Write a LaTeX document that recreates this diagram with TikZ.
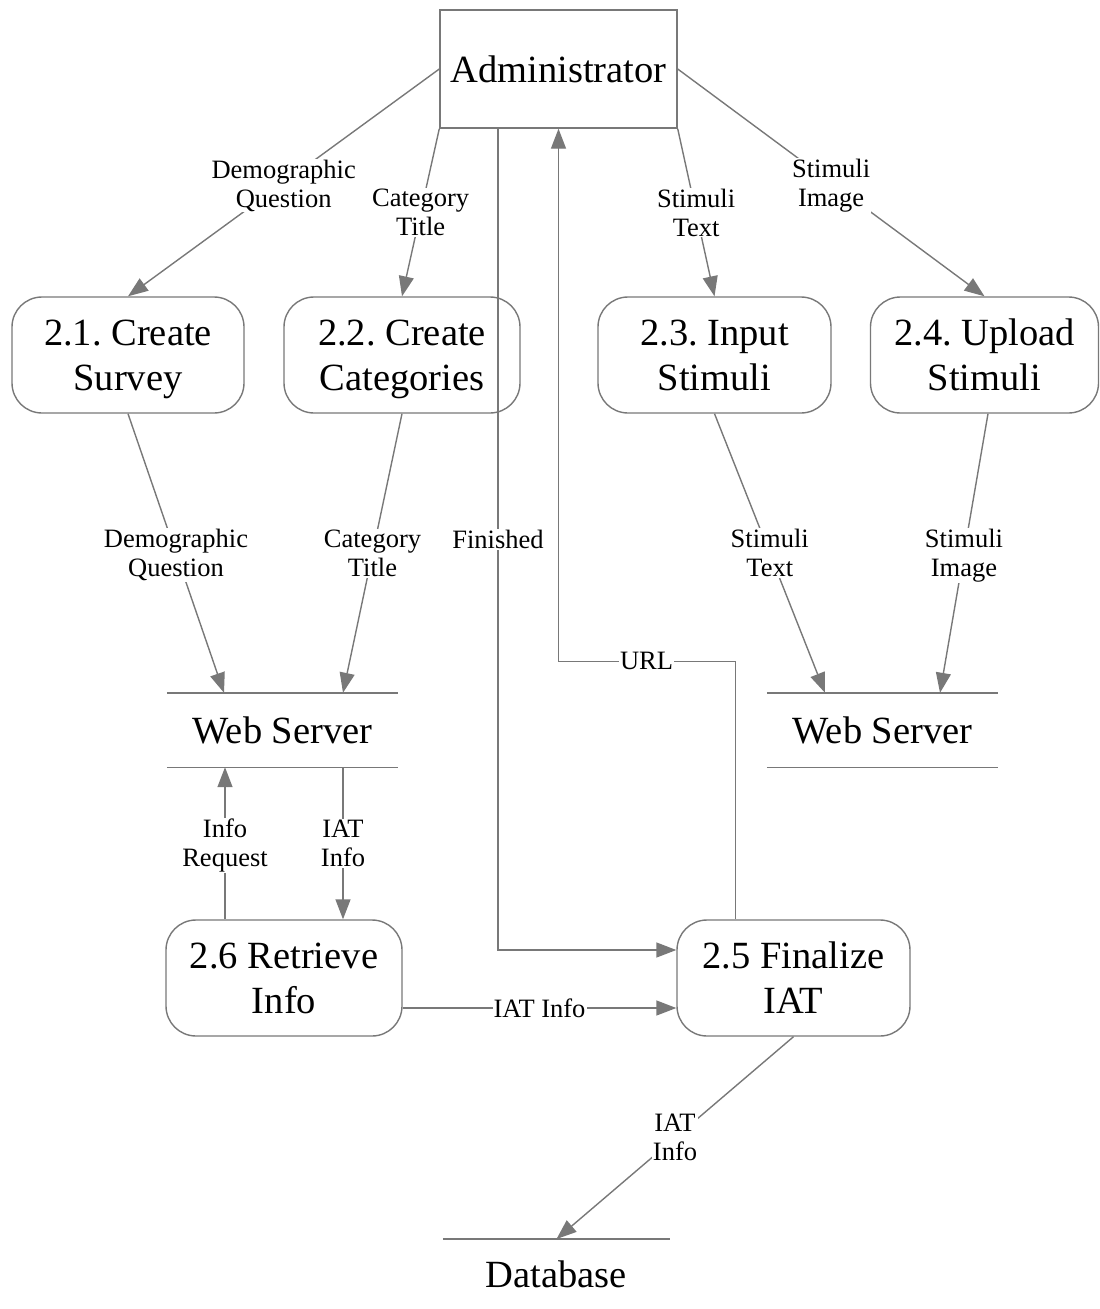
\documentclass[tikz,border=0pt]{standalone}
\usepackage{fontspec}
\setmainfont{Liberation Serif}
\usetikzlibrary{arrows.meta}
\definecolor{edge}{RGB}{120,120,120}
\frenchspacing
\begin{document}
\begin{tikzpicture}[x=1pt,y=-1pt,
  entity/.style={draw=edge,line width=1.4pt,minimum width=237pt,minimum height=118pt,
    font=\fontsize{38.5}{45}\selectfont,inner sep=0pt},
  proc/.style={draw=edge,line width=1.4pt,rounded corners=30pt,minimum width=232pt,
    minimum height=116pt,align=center,font=\fontsize{38.5}{45}\selectfont,inner sep=0pt},
  store/.style={minimum width=231pt,minimum height=74pt,font=\fontsize{38.5}{45}\selectfont,inner sep=0pt},
  flow/.style={draw=edge,line width=1.4pt,-{Triangle[length=20pt,width=15pt]}},
  plain/.style={draw=edge,line width=1.4pt},
  lbl/.style={fill=white,text=black,align=center,inner sep=1pt,
    font=\fontsize{26.5}{29}\selectfont}]
\useasboundingbox (0,0) rectangle (1100,1309);

% external entity and processes (last lines smashed so descenders do not shift the text)
\node[entity] (adm) at (558.5,69) {Administrator};
\node[proc] (p21) at (128,355) {2.1. Create\\\smash{Survey}};
\node[proc,minimum width=236pt] (p22) at (402,355) {2.2. Create\\\smash{Categories}};
\node[proc,minimum width=233pt] (p23) at (714.5,355) {2.3. Input\\\smash{Stimuli}};
\node[proc,minimum width=228pt] (p24) at (984.5,355) {2.4. Upload\\\smash{Stimuli}};
\node[proc,minimum width=236pt] (p26) at (284,978) {2.6 Retrieve\\\smash{Info}};
\node[proc,minimum width=233pt] (p25) at (793.5,978) {2.5 Finalize\\\smash{IAT}};

% data stores
\node[store] (ws1) at (282.5,730) {Web Server};
\node[store] (ws2) at (882.5,730) {Web Server};
\node[store,minimum width=227pt,minimum height=70pt,anchor=north] (db) at (556.5,1239) {Database};
\draw[plain] (ws1.north west) -- (ws1.north east) (ws1.south west) -- (ws1.south east);
\draw[plain] (ws2.north west) -- (ws2.north east) (ws2.south west) -- (ws2.south east);
\draw[plain] (db.north west) -- (db.north east);

% flows from the administrator
\draw[flow] (adm.west) -- node[lbl,yshift=-3pt] {Demographic\\Question} (p21.north);
\draw[flow] (adm.south west) -- node[lbl] {Category\\Title} (p22.north);
\draw[flow] (adm.south east) -- node[lbl] {Stimuli\\Text} (p23.north);
\draw[flow] (adm.east) -- node[lbl,yshift=-3pt] {Stimuli\\Image} (p24.north);

% flows into the web servers
\draw[flow] (p21.south) -- node[lbl,yshift=-2pt] {Demographic\\Question} ([xshift=-58.5pt]ws1.north);
\draw[flow] (p22.south) -- node[lbl] {Category\\Title} ([xshift=60.5pt]ws1.north);
\draw[flow] (p23.south) -- node[lbl] {Stimuli\\Text} ([xshift=-57.5pt]ws2.north);
\draw[flow] ([xshift=3.5pt]p24.south) -- node[lbl,yshift=-2pt] {Stimuli\\Image} ([xshift=57.5pt]ws2.north);

% retrieval
\draw[flow] ([xshift=-59pt]p26.north) -- node[lbl,yshift=-2pt] {Info\\Request} ([xshift=-57.5pt]ws1.south);
\draw[flow] ([xshift=60.5pt]ws1.south) -- node[lbl] {IAT\\Info} ([xshift=59pt]p26.north);
\draw[flow] ([yshift=-30pt]p26.east) -- node[lbl] {IAT Info} ([yshift=-30pt]p25.west);

% finalisation
\draw[flow] ([xshift=-60.5pt]adm.south) |- node[lbl,pos=0.25] {Finished} ([yshift=28pt]p25.west);
\draw[flow] ([xshift=-58pt]p25.north) -- ++(0,-258) coordinate (urlc) -| (adm.south);
\node[lbl] at ([xshift=-89pt]urlc) {URL};
\draw[flow] (p25.south) -- node[lbl] {IAT\\Info} (db.north);
\end{tikzpicture}
\end{document}
